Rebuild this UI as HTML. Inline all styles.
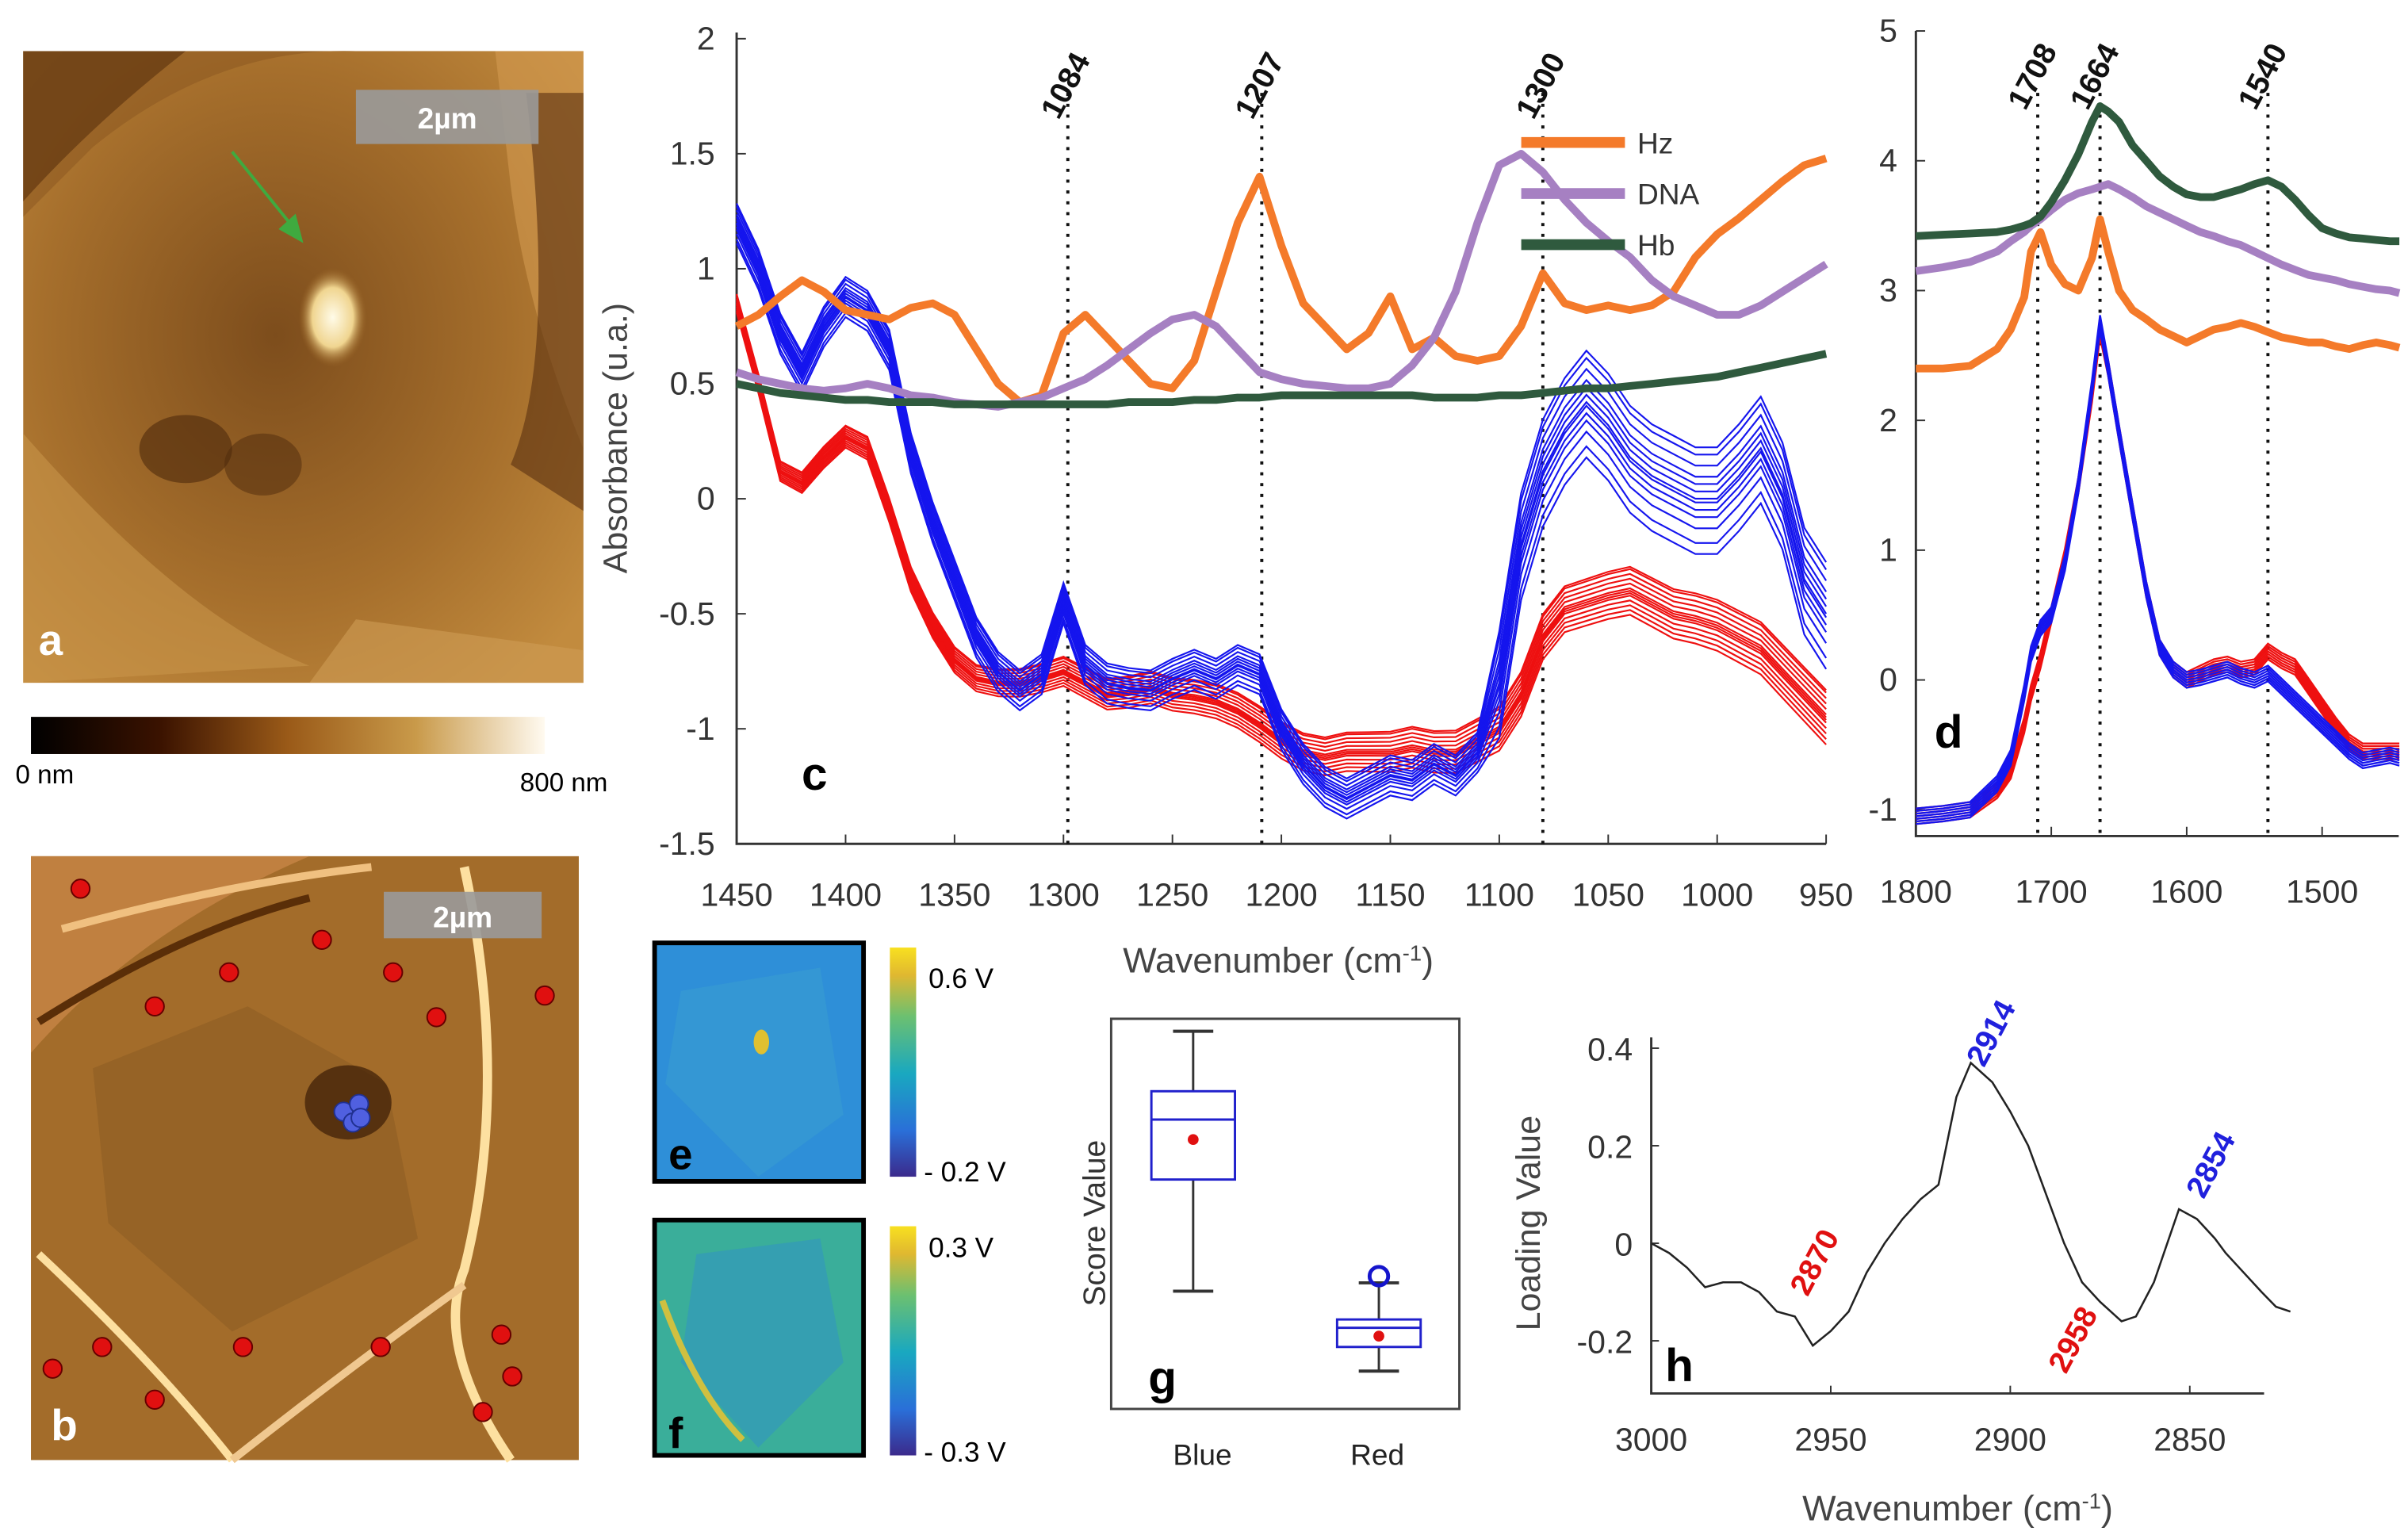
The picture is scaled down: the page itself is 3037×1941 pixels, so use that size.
<!DOCTYPE html>
<html><head><meta charset="utf-8"><style>
html,body{margin:0;padding:0;background:#fff;}
svg{display:block;font-family:"Liberation Sans",Arial,sans-serif;}
</style></head><body>
<svg id="fig" width="3037" height="1941" viewBox="0 0 1556 994" preserveAspectRatio="none" xmlns="http://www.w3.org/2000/svg">
<defs>
<linearGradient id="hcb" x1="0" x2="1"><stop offset="0" stop-color="#000"/><stop offset="0.25" stop-color="#3a1200"/><stop offset="0.5" stop-color="#9a5a18"/><stop offset="0.75" stop-color="#c99a4a"/><stop offset="1" stop-color="#fffaf0"/></linearGradient>
<linearGradient id="vcb" x1="0" y1="1" x2="0" y2="0"><stop offset="0" stop-color="#3b2a8c"/><stop offset="0.2" stop-color="#2a6fd8"/><stop offset="0.45" stop-color="#19a8c0"/><stop offset="0.7" stop-color="#6cc070"/><stop offset="0.88" stop-color="#e0b830"/><stop offset="1" stop-color="#f8e020"/></linearGradient>
<radialGradient id="abg" cx="0.45" cy="0.45" r="0.7"><stop offset="0" stop-color="#7d4d1c"/><stop offset="0.6" stop-color="#a66f2c"/><stop offset="1" stop-color="#c28b3e"/></radialGradient>
<radialGradient id="spot" cx="0.5" cy="0.5" r="0.5"><stop offset="0" stop-color="#fffbe8"/><stop offset="0.6" stop-color="#f0d590"/><stop offset="1" stop-color="#a06a28" stop-opacity="0"/></radialGradient>
</defs>

<!-- Panel a -->
<g>
<rect x="15" y="33" width="362" height="408" fill="url(#abg)"/>
<path d="M15 33 L120 33 Q60 80 15 130 Z" fill="#4a2608" opacity="0.8"/>
<path d="M15 33 L230 33 Q140 30 60 95 L15 140Z" fill="#8a5520" opacity="0.5"/>
<path d="M320 33 L377 33 L377 290 Q340 200 330 120Z" fill="#d29a50" opacity="0.6"/>
<path d="M340 60 Q360 230 330 300 L377 330 L377 60Z" fill="#5a3010" opacity="0.6"/>
<path d="M15 280 Q120 400 200 430 L15 441Z" fill="#c8954a" opacity="0.6"/>
<path d="M200 441 L230 400 L377 420 L377 441Z" fill="#cf9c55" opacity="0.6"/>
<ellipse cx="120" cy="290" rx="30" ry="22" fill="#4e2a0b" opacity="0.6"/>
<ellipse cx="170" cy="300" rx="25" ry="20" fill="#4e2a0b" opacity="0.5"/>
<ellipse cx="215" cy="205" rx="22" ry="32" fill="url(#spot)"/>
<line x1="150" y1="98" x2="192" y2="150" stroke="#3faa3f" stroke-width="2"/>
<polygon points="196,157 180,148 191,138" fill="#3faa3f"/>
<rect x="230" y="58" width="118" height="35" fill="#9a9a9a" opacity="0.9"/>
<text x="289" y="83" fill="#fff" font-size="19" font-weight="bold" text-anchor="middle">2µm</text>
<text x="25" y="423" fill="#fff" font-size="28" font-weight="bold">a</text>
</g>
<rect x="20" y="463" width="332" height="24" fill="url(#hcb)"/>
<text x="10" y="506" font-size="17">0 nm</text>
<text x="336" y="511" font-size="17">800 nm</text>

<!-- Panel b -->
<g>
<rect x="20" y="553" width="354" height="390" fill="#a36c2a"/>
<path d="M20 553 L200 553 Q90 600 20 680Z" fill="#c08040"/>
<path d="M40 600 Q150 570 240 560" stroke="#f0c080" stroke-width="5" fill="none"/>
<path d="M25 660 Q120 600 200 580" stroke="#5a2e08" stroke-width="5" fill="none"/>
<path d="M300 560 Q330 700 300 820 Q280 870 330 943" stroke="#fde0a0" stroke-width="6" fill="none"/>
<path d="M25 810 Q100 880 150 943" stroke="#fde0a0" stroke-width="5" fill="none"/>
<path d="M150 943 Q230 880 300 830" stroke="#f0c890" stroke-width="5" fill="none"/>
<path d="M60 690 L160 650 L250 700 L270 800 L150 860 L70 790Z" fill="#8a5a22" opacity="0.5"/>
<ellipse cx="225" cy="712" rx="28" ry="24" fill="#3a1c06" opacity="0.7"/>
<rect x="248" y="576" width="102" height="30" fill="#9a9a9a" opacity="0.9"/>
<text x="299" y="599" fill="#fff" font-size="19" font-weight="bold" text-anchor="middle">2µm</text>
<text x="33" y="930" fill="#fff" font-size="28" font-weight="bold">b</text>
</g>
<g id="bdots"></g>

<!-- Panels e, f -->
<g>
<rect x="423" y="609" width="135" height="154" fill="#2e8fd8" stroke="#000" stroke-width="3"/>
<path d="M440 640 L530 625 L545 720 L490 760 L430 700Z" fill="#3aa0d0" opacity="0.5"/>
<ellipse cx="492" cy="673" rx="5" ry="8" fill="#e0c030"/>
<text x="432" y="755" font-size="28" font-weight="bold">e</text>
</g>
<rect x="575" y="612" width="17" height="148" fill="url(#vcb)"/>
<text x="600" y="638" font-size="18">0.6 V</text>
<text x="597" y="763" font-size="18">- 0.2 V</text>
<g>
<rect x="423" y="788" width="135" height="152" fill="#3aae9a" stroke="#000" stroke-width="3"/>
<path d="M450 810 L530 800 L545 880 L490 935 L440 880Z" fill="#3090c8" opacity="0.5"/>
<path d="M428 840 Q450 900 480 930" stroke="#d0c040" stroke-width="4" fill="none"/>
<text x="432" y="935" font-size="28" font-weight="bold">f</text>
</g>
<rect x="575" y="792" width="17" height="148" fill="url(#vcb)"/>
<text x="600" y="812" font-size="18">0.3 V</text>
<text x="597" y="944" font-size="18">- 0.3 V</text>

<!-- Panel g -->
<g id="gpanel">
<rect x="718" y="658" width="225" height="252" fill="none" stroke="#444" stroke-width="1.5"/>
<text transform="translate(714,790) rotate(-90)" font-size="20" fill="#333" text-anchor="middle">Score Value</text>
<text x="777" y="946" font-size="19" text-anchor="middle" fill="#222">Blue</text>
<text x="890" y="946" font-size="19" text-anchor="middle" fill="#222">Red</text>
<text x="742" y="900" font-size="30" font-weight="bold">g</text>
</g>

<g id="cpanel"></g>
<g id="dpanel"></g>
<g id="hpanel"></g>
</svg>
<script>
const NS='http://www.w3.org/2000/svg';
function mk(parent,tag,attrs,txt){const e=document.createElementNS(NS,tag);for(const k in attrs)e.setAttribute(k,attrs[k]);if(txt!==undefined)e.textContent=txt;parent.appendChild(e);return e;}

// ---------- Panel c data ----------
const cWn=[1450,1440,1430,1420,1410,1400,1390,1380,1370,1360,1350,1340,1330,1320,1310,1300,1290,1280,1270,1260,1250,1240,1230,1220,1210,1200,1190,1180,1170,1160,1150,1140,1130,1120,1110,1100,1090,1080,1070,1060,1050,1040,1030,1020,1010,1000,990,980,970,960,950];
const cHz=[0.75,0.8,0.88,0.95,0.9,0.82,0.8,0.78,0.83,0.85,0.8,0.65,0.5,0.42,0.45,0.72,0.8,0.7,0.6,0.5,0.48,0.6,0.9,1.2,1.4,1.1,0.85,0.75,0.65,0.72,0.88,0.65,0.7,0.62,0.6,0.62,0.75,0.98,0.85,0.82,0.84,0.82,0.84,0.9,1.05,1.15,1.22,1.3,1.38,1.45,1.48];
const cDNA=[0.55,0.52,0.5,0.48,0.47,0.48,0.5,0.48,0.45,0.44,0.42,0.41,0.4,0.42,0.44,0.48,0.52,0.58,0.65,0.72,0.78,0.8,0.75,0.65,0.55,0.52,0.5,0.49,0.48,0.48,0.5,0.58,0.7,0.9,1.2,1.45,1.5,1.42,1.3,1.2,1.12,1.05,0.95,0.88,0.84,0.8,0.8,0.84,0.9,0.96,1.02];
const cHb=[0.5,0.48,0.46,0.45,0.44,0.43,0.43,0.42,0.42,0.42,0.41,0.41,0.41,0.41,0.41,0.41,0.41,0.41,0.42,0.42,0.42,0.43,0.43,0.44,0.44,0.45,0.45,0.45,0.45,0.45,0.45,0.45,0.44,0.44,0.44,0.45,0.45,0.46,0.47,0.48,0.48,0.49,0.5,0.51,0.52,0.53,0.55,0.57,0.59,0.61,0.63];
const cBlue=[1.2,1.0,0.72,0.55,0.75,0.88,0.82,0.65,0.2,-0.1,-0.35,-0.6,-0.75,-0.83,-0.76,-0.45,-0.72,-0.8,-0.82,-0.83,-0.78,-0.74,-0.78,-0.72,-0.76,-1.0,-1.15,-1.25,-1.3,-1.25,-1.2,-1.22,-1.15,-1.2,-1.1,-0.8,-0.2,0.12,0.3,0.42,0.32,0.18,0.1,0.05,0.0,0.0,0.1,0.22,0.02,-0.35,-0.5];
const cRed=[0.85,0.5,0.12,0.07,0.18,0.27,0.22,-0.05,-0.35,-0.55,-0.7,-0.78,-0.8,-0.8,-0.78,-0.75,-0.8,-0.85,-0.84,-0.82,-0.85,-0.86,-0.88,-0.92,-0.98,-1.05,-1.1,-1.12,-1.1,-1.1,-1.1,-1.08,-1.1,-1.1,-1.05,-1.0,-0.85,-0.6,-0.48,-0.45,-0.42,-0.4,-0.45,-0.5,-0.52,-0.55,-0.6,-0.65,-0.75,-0.85,-0.95];
const blueSpread=[-0.12,-0.08,-0.05,-0.03,-0.01,0,0.02,0.04,0.06,0.09,0.12,-0.15,0.14];
const redSpread=[-0.08,-0.06,-0.04,-0.02,-0.01,0,0.01,0.03,0.05,0.07,0.09,-0.1,0.1];
const cTicksX=[1450,1400,1350,1300,1250,1200,1150,1100,1050,1000,950];
const cTicksY=[2,1.5,1,0.5,0,-0.5,-1,-1.5];
const cMarkWn=[1298,1209,1080];
const cMarkLabels=['1084','1207','1300'];

// ---------- Panel d data ----------
const dWn=[1800,1780,1760,1740,1730,1720,1715,1708,1700,1690,1680,1670,1664,1658,1650,1640,1630,1620,1610,1600,1590,1580,1570,1560,1550,1540,1530,1520,1510,1500,1490,1480,1470,1460,1450,1443];
const dHz=[2.4,2.4,2.42,2.55,2.7,2.95,3.3,3.45,3.2,3.05,3.0,3.25,3.55,3.3,3.0,2.85,2.78,2.7,2.65,2.6,2.65,2.7,2.72,2.75,2.72,2.68,2.64,2.62,2.6,2.6,2.57,2.55,2.58,2.6,2.58,2.56];
const dDNA=[3.15,3.18,3.22,3.3,3.38,3.45,3.5,3.55,3.62,3.7,3.75,3.78,3.8,3.82,3.78,3.72,3.65,3.6,3.55,3.5,3.45,3.42,3.38,3.35,3.3,3.25,3.2,3.16,3.12,3.1,3.08,3.05,3.03,3.01,3.0,2.98];
const dHb=[3.42,3.43,3.44,3.45,3.47,3.5,3.52,3.57,3.68,3.85,4.05,4.3,4.42,4.38,4.3,4.12,4.0,3.88,3.8,3.74,3.72,3.72,3.75,3.78,3.82,3.85,3.8,3.7,3.58,3.48,3.44,3.41,3.4,3.39,3.38,3.38];
const dBlue=[-1.05,-1.03,-1.0,-0.8,-0.6,-0.1,0.2,0.4,0.5,0.9,1.5,2.25,2.75,2.4,1.9,1.3,0.7,0.25,0.08,0.0,0.02,0.05,0.08,0.03,0.0,0.05,-0.05,-0.15,-0.25,-0.35,-0.45,-0.55,-0.62,-0.6,-0.58,-0.6];
const dRed=[-1.05,-1.03,-1.0,-0.85,-0.7,-0.35,-0.1,0.15,0.5,0.95,1.5,2.2,2.7,2.4,1.9,1.3,0.7,0.25,0.08,0.0,0.05,0.1,0.12,0.08,0.1,0.22,0.15,0.1,-0.05,-0.2,-0.35,-0.48,-0.55,-0.55,-0.55,-0.55];
const dSpread=[-0.06,-0.04,-0.02,0,0.02,0.04,0.06];
const dTicksX=[1800,1700,1600,1500];
const dTicksY=[5,4,3,2,1,0,-1];
const dMarkWn=[1710,1664,1540];
const dMarkLabels=['1708','1664','1540'];

// ---------- Panel g data ----------
const gGroups=['Blue','Red'];
const gMin=[-0.61,-1.09];
const gQ1=[0.06,-0.945];
const gMed=[0.42,-0.83];
const gQ3=[0.59,-0.78];
const gMax=[0.95,-0.56];
const gMean=[0.3,-0.88];
const gOutlier=[null,-0.52];

// ---------- Panel h data ----------
const hWn=[3000,2995,2990,2985,2980,2975,2970,2965,2960,2955,2950,2945,2940,2935,2930,2925,2920,2915,2911,2905,2900,2895,2890,2885,2880,2875,2869,2865,2860,2853,2848,2843,2840,2835,2830,2826,2822];
const hLoad=[0,-0.02,-0.05,-0.09,-0.08,-0.08,-0.1,-0.14,-0.15,-0.21,-0.18,-0.14,-0.06,0.0,0.05,0.09,0.12,0.3,0.37,0.33,0.27,0.2,0.1,0.0,-0.08,-0.12,-0.16,-0.15,-0.08,0.07,0.05,0.01,-0.02,-0.06,-0.1,-0.13,-0.14];
const hTicksX=[3000,2950,2900,2850];
const hTicksY=[0.4,0.2,0,-0.2];
const hMarkLabels=['2870','2914','2958','2854'];

// ---------- Panel b dots ----------
const bDots=[[52,574],[100,650],[148,628],[208,607],[254,628],[282,657],[352,643],[34,884],[66,870],[100,904],[157,870],[246,870],[324,862],[331,889],[312,912]];
const bBlue=[[222,718],[232,713],[228,725],[233,722]];
const bd=document.getElementById('bdots');
bDots.forEach(p=>{const c=mk(bd,'circle',{cx:p[0],cy:p[1],r:6,fill:'#e01010',stroke:'#600',"stroke-width":1});

});
bBlue.forEach(p=>{const c=mk(bd,'circle',{cx:p[0],cy:p[1],r:6,fill:'#5060e0',stroke:'#203090',"stroke-width":1});

});

function pathD(xs,ys,sx,sy){return xs.map((x,i)=>(i?'L':'M')+sx(x).toFixed(1)+' '+sy(ys[i]).toFixed(1)).join(' ');}

// ---------- draw panel c ----------
(function(){
const g=document.getElementById('cpanel');
const L=476,R=1180,T=25,B=545;
const sx=w=>L+(1450-w)/500*(R-L);
const sy=v=>B-(v+1.5)/3.5*(B-T);
const ax=mk(g,'path',{d:`M${L} ${T-4} L${L} ${B} L${R} ${B}`,stroke:'#333',"stroke-width":1.5,fill:'none'});


cTicksY.forEach(v=>{mk(g,'line',{x1:L,x2:L+6,y1:sy(v),y2:sy(v),stroke:'#333'});
const t=mk(g,'text',{x:L-14,y:sy(v)+7,"font-size":21,"text-anchor":"end",fill:'#333'},String(v));

});
cTicksX.forEach(w=>{mk(g,'line',{x1:sx(w),x2:sx(w),y1:B,y2:B-6,stroke:'#333'});
const t=mk(g,'text',{x:sx(w),y:B+40,"font-size":21,"text-anchor":"middle",fill:'#333'},String(w));

});
const yt=mk(g,'text',{transform:`translate(405,283) rotate(-90)`,"font-size":22,"text-anchor":"middle",fill:'#444'},'Absorbance (u.a.)');


const xt=mk(g,'text',{x:826,y:628,"font-size":23,"text-anchor":"middle",fill:'#444'});


xt.textContent='Wavenumber (cm';mk(xt,'tspan',{"baseline-shift":"super","font-size":14},'-1');mk(xt,'tspan',{},')');
cMarkWn.forEach((w,i)=>{const l=mk(g,'line',{x1:sx(w),x2:sx(w),y1:60,y2:B,stroke:'#111',"stroke-width":2,"stroke-dasharray":"2,5"});


const t=mk(g,'text',{transform:`translate(${sx(w)-6},78) rotate(-62)`,"font-size":20,"font-weight":"bold",fill:'#111'},cMarkLabels[i]);

});
redSpread.forEach(o=>{const p=mk(g,'path',{d:pathD(cWn,cRed.map((v,i)=>v+o*(0.4+0.8*i/cWn.length)),sx,sy),stroke:'#ee1010',"stroke-width":1.1,fill:'none'});

});
blueSpread.forEach(o=>{const p=mk(g,'path',{d:pathD(cWn,cBlue.map((v,i)=>v+o*(i>34?1.6:0.6)),sx,sy),stroke:'#1515ee',"stroke-width":1.1,fill:'none'});

});
[[cHz,'#f47a2a','hz-spectrum'],[cDNA,'#a680c2','dna-spectrum'],[cHb,'#2f5a3e','hb-spectrum']].forEach(s=>{
const p=mk(g,'path',{d:pathD(cWn,s[0],sx,sy),stroke:s[1],"stroke-width":5,fill:'none',"stroke-linejoin":"round"});

});
[['Hz','#f47a2a',92],['DNA','#a680c2',125],['Hb','#2f5a3e',158]].forEach(e=>{
const l=mk(g,'line',{x1:983,x2:1050,y1:e[2],y2:e[2],stroke:e[1],"stroke-width":7});


const t=mk(g,'text',{x:1058,y:e[2]+7,"font-size":19,fill:'#333'},e[0]);

});
const lab=mk(g,'text',{x:518,y:510,"font-size":30,"font-weight":"bold"},'c');


})();

// ---------- draw panel d ----------
(function(){
const g=document.getElementById('dpanel');
const L=1238,R=1550,T=20,B=540;
const sx=w=>L+(1800-w)/100*87.5;
const sy=v=>523-(v+1)/6*503;
const ax=mk(g,'path',{d:`M${L} ${T} L${L} ${B} L${R} ${B}`,stroke:'#333',"stroke-width":1.5,fill:'none'});


dTicksY.forEach(v=>{mk(g,'line',{x1:L,x2:L+6,y1:sy(v),y2:sy(v),stroke:'#333'});
const t=mk(g,'text',{x:L-12,y:sy(v)+7,"font-size":21,"text-anchor":"end",fill:'#333'},String(v));

});
dTicksX.forEach(w=>{mk(g,'line',{x1:sx(w),x2:sx(w),y1:B,y2:B-6,stroke:'#333'});
const t=mk(g,'text',{x:sx(w),y:B+43,"font-size":21,"text-anchor":"middle",fill:'#333'},String(w));

});
dMarkWn.forEach((w,i)=>{const l=mk(g,'line',{x1:sx(w),x2:sx(w),y1:60,y2:B,stroke:'#111',"stroke-width":2,"stroke-dasharray":"2,5"});


const t=mk(g,'text',{transform:`translate(${sx(w)-8},72) rotate(-62)`,"font-size":20,"font-weight":"bold",fill:'#111'},dMarkLabels[i]);

});
dSpread.forEach(o=>{const p=mk(g,'path',{d:pathD(dWn,dRed.map(v=>v+o),sx,sy),stroke:'#ee1010',"stroke-width":1.2,fill:'none'});

});
dSpread.forEach(o=>{const p=mk(g,'path',{d:pathD(dWn,dBlue.map(v=>v+o),sx,sy),stroke:'#1515ee',"stroke-width":1.2,fill:'none'});

});
[[dHz,'#f47a2a','d-hz-spectrum'],[dDNA,'#a680c2','d-dna-spectrum'],[dHb,'#2f5a3e','d-hb-spectrum']].forEach(s=>{
const p=mk(g,'path',{d:pathD(dWn,s[0],sx,sy),stroke:s[1],"stroke-width":5,fill:'none',"stroke-linejoin":"round"});

});
const lab=mk(g,'text',{x:1250,y:483,"font-size":30,"font-weight":"bold"},'d');


})();

// ---------- draw panel g ----------
(function(){
const g=document.getElementById('gpanel');
const sy=v=>736-(v-0.3)*107.6;
const cx=[771,891];
gGroups.forEach((n,i)=>{
const x=cx[i],w=27;
mk(g,'line',{x1:x,x2:x,y1:sy(gMax[i]),y2:sy(gQ3[i]),stroke:'#333',"stroke-width":1.5});
mk(g,'line',{x1:x,x2:x,y1:sy(gQ1[i]),y2:sy(gMin[i]),stroke:'#333',"stroke-width":1.5});
mk(g,'line',{x1:x-13,x2:x+13,y1:sy(gMax[i]),y2:sy(gMax[i]),stroke:'#333',"stroke-width":2});
mk(g,'line',{x1:x-13,x2:x+13,y1:sy(gMin[i]),y2:sy(gMin[i]),stroke:'#333',"stroke-width":2});
const b=mk(g,'rect',{x:x-w,y:sy(gQ3[i]),width:2*w,height:sy(gQ1[i])-sy(gQ3[i]),fill:'#fff',stroke:'#2020cc',"stroke-width":1.5});


mk(g,'line',{x1:x-w,x2:x+w,y1:sy(gMed[i]),y2:sy(gMed[i]),stroke:'#2020cc',"stroke-width":1.5});
const m=mk(g,'circle',{cx:x,cy:sy(gMean[i]),r:3.5,fill:'#e01010'});


if(gOutlier[i]!==null){const o=mk(g,'circle',{cx:x,cy:sy(gOutlier[i]),r:6,fill:'none',stroke:'#1515cc',"stroke-width":2.5});

}
});
})();

// ---------- draw panel h ----------
(function(){
const g=document.getElementById('hpanel');
const L=1067,R=1463,T=670,B=900;
const sx=w=>L+(3000-w)/50*116;
const sy=v=>803-v/0.2*63;
const ax=mk(g,'path',{d:`M${L} ${T} L${L} ${B} L${R} ${B}`,stroke:'#333',"stroke-width":1.5,fill:'none'});


hTicksY.forEach(v=>{mk(g,'line',{x1:L,x2:L+5,y1:sy(v),y2:sy(v),stroke:'#333'});
const t=mk(g,'text',{x:L-12,y:sy(v)+8,"font-size":21,"text-anchor":"end",fill:'#333'},String(v));

});
hTicksX.forEach(w=>{mk(g,'line',{x1:sx(w),x2:sx(w),y1:B,y2:B-5,stroke:'#333'});
const t=mk(g,'text',{x:sx(w),y:B+37,"font-size":21,"text-anchor":"middle",fill:'#333'},String(w));

});
const yt=mk(g,'text',{transform:`translate(995,790) rotate(-90)`,"font-size":22,"text-anchor":"middle",fill:'#444'},'Loading Value');


const xt=mk(g,'text',{x:1265,y:982,"font-size":23,"text-anchor":"middle",fill:'#444'});


xt.textContent='Wavenumber (cm';mk(xt,'tspan',{"baseline-shift":"super","font-size":14},'-1');mk(xt,'tspan',{},')');
const p=mk(g,'path',{d:pathD(hWn,hLoad,sx,sy),stroke:'#222',"stroke-width":1.3,fill:'none'});


const pos=[[1168,838,'#e01010'],[1282,690,'#2020dd'],[1335,888,'#e01010'],[1424,775,'#2020dd']];
hMarkLabels.forEach((s,i)=>{const t=mk(g,'text',{transform:`translate(${pos[i][0]},${pos[i][1]}) rotate(-62)`,"font-size":20,"font-weight":"bold",fill:pos[i][2]},s);

});
const lab=mk(g,'text',{x:1076,y:892,"font-size":30,"font-weight":"bold"},'h');


})();
</script>
</body></html>
